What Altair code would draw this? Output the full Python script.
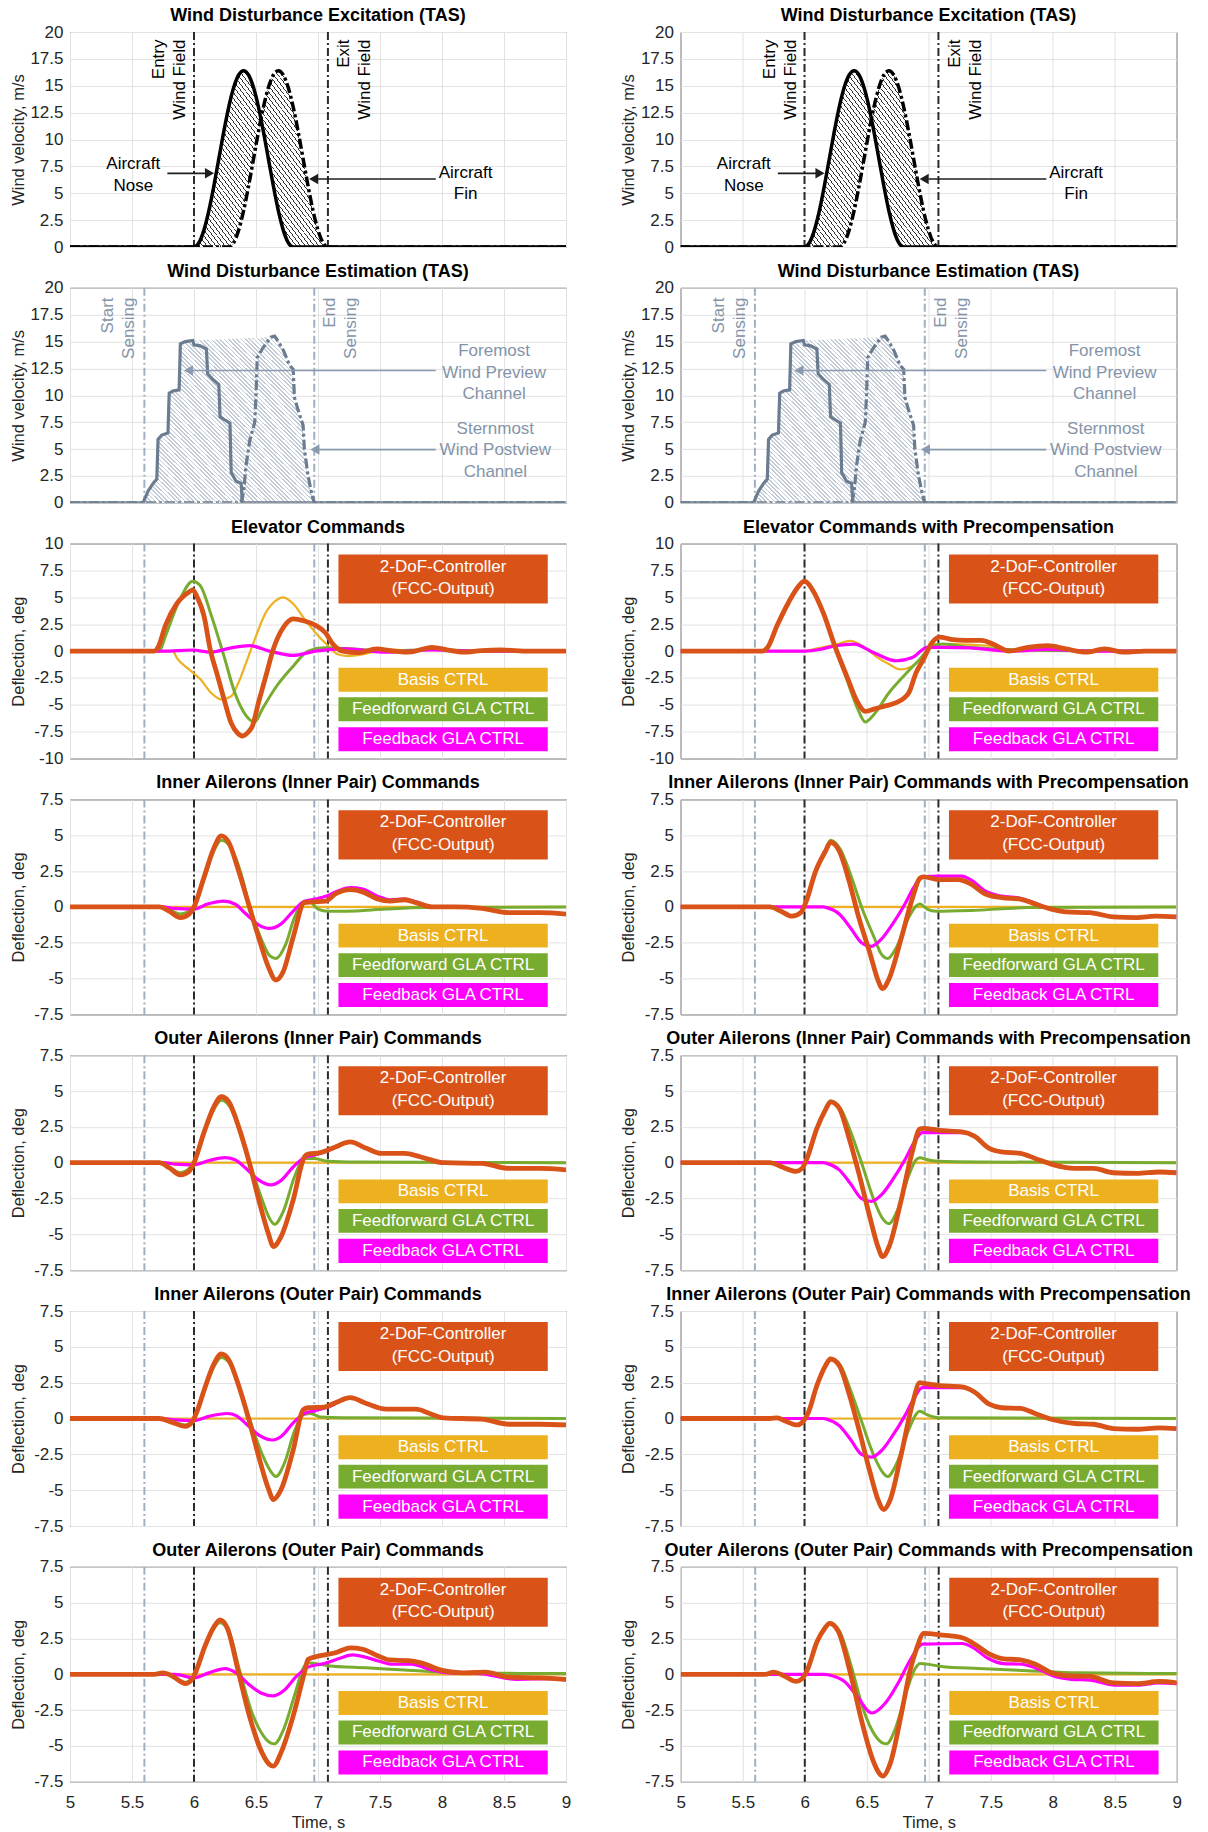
import altair as alt
import pandas as pd

FONT = "Liberation Sans"

# ---------------- colours ----------------
C_FCC = "#D95319"
C_BASIS = "#EDB120"
C_FF = "#77AC30"
C_FB = "#FF00FF"
C_EVT = "#2b2b2b"
C_SENSE = "#9fb0c2"
C_EST = "#6b7c90"
C_EST_TXT = "#8494a8"

# ---------------- axes ----------------
X_TICKS = [5, 5.5, 6, 6.5, 7, 7.5, 8, 8.5, 9]
WIND_TICKS = [0, 2.5, 5, 7.5, 10, 12.5, 15, 17.5, 20]
ELEV_TICKS = [-10, -7.5, -5, -2.5, 0, 2.5, 5, 7.5, 10]
AIL_TICKS = [-7.5, -5, -2.5, 0, 2.5, 5, 7.5]

ENTRY_T, EXIT_T = 6.0, 7.08
START_T, END_T = 5.6, 6.97

TITLES_L = [
    "Wind Disturbance Excitation (TAS)",
    "Wind Disturbance Estimation (TAS)",
    "Elevator Commands",
    "Inner Ailerons (Inner Pair) Commands",
    "Outer Ailerons (Inner Pair) Commands",
    "Inner Ailerons (Outer Pair) Commands",
    "Outer Ailerons (Outer Pair) Commands",
]
TITLES_R = [
    "Wind Disturbance Excitation (TAS)",
    "Wind Disturbance Estimation (TAS)",
    "Elevator Commands with Precompensation",
    "Inner Ailerons (Inner Pair) Commands with Precompensation",
    "Outer Ailerons (Inner Pair) Commands with Precompensation",
    "Inner Ailerons (Outer Pair) Commands with Precompensation",
    "Outer Ailerons (Outer Pair) Commands with Precompensation",
]

BOX_LABELS = {
    "fcc": ["2-DoF-Controller", "(FCC-Output)"],
    "basis": "Basis CTRL",
    "ff": "Feedforward GLA CTRL",
    "fb": "Feedback GLA CTRL",
}

# ---------------- wind excitation ----------------
GUST_T = [6.00, 6.04, 6.08, 6.12, 6.16, 6.20, 6.24, 6.28, 6.32, 6.36, 6.40, 6.44, 6.48, 6.52,
          6.56, 6.60, 6.64, 6.68, 6.72, 6.76, 6.80, 6.84, 6.88, 6.92, 6.96, 7.00, 7.04, 7.08]
NOSE_V = [0, 0.40, 1.57, 3.38, 5.67, 8.20, 10.73, 13.02, 14.83, 16.00, 16.40, 16.00, 14.83, 13.02,
          10.73, 8.20, 5.67, 3.38, 1.57, 0.40, 0, 0, 0, 0, 0, 0, 0, 0]
FIN_V = [0, 0, 0, 0, 0, 0, 0, 0, 0.40, 1.57, 3.38, 5.67, 8.20, 10.73,
         13.02, 14.83, 16.00, 16.40, 16.00, 14.83, 13.02, 10.73, 8.20, 5.67, 3.38, 1.57, 0.40, 0]

# ---------------- wind estimation ----------------
FORE = [(5.0, 0), (5.59, 0), (5.60, 0.3), (5.63, 1.1), (5.67, 1.8), (5.70, 2.2), (5.71, 5.9),
        (5.74, 6.3), (5.79, 6.5), (5.80, 10.2), (5.83, 10.4), (5.88, 10.5), (5.89, 14.8),
        (5.93, 15.0), (5.99, 15.1), (6.00, 14.7), (6.05, 14.6), (6.10, 14.3), (6.11, 12.0),
        (6.15, 11.5), (6.20, 11.0), (6.21, 8.0), (6.25, 7.7), (6.29, 7.4), (6.30, 2.8),
        (6.34, 2.0), (6.38, 1.8), (6.39, 0), (9.0, 0)]
STERN = [(5.0, 0), (6.38, 0), (6.40, 1.0), (6.42, 3.5), (6.45, 5.8), (6.49, 7.5), (6.50, 10.0),
         (6.51, 13.5), (6.55, 14.3), (6.58, 14.8), (6.62, 15.4), (6.65, 15.5), (6.68, 15.0),
         (6.72, 14.2), (6.77, 12.8), (6.80, 12.4), (6.81, 9.8), (6.84, 8.6), (6.88, 7.2),
         (6.89, 5.0), (6.92, 2.5), (6.95, 0.8), (6.97, 0), (9.0, 0)]

# ---------------- elevator ----------------
EL_L_FCC = [(5.0, 0), (5.68, 0), (5.71, 0.35), (5.77, 2.4), (5.86, 4.4), (5.96, 5.5), (5.99, 5.7),
            (6.03, 4.9), (6.08, 3.3), (6.13, 0.2), (6.19, -2.3), (6.25, -4.8), (6.30, -6.7),
            (6.35, -7.6), (6.39, -7.9), (6.44, -7.5), (6.47, -7.0), (6.52, -4.8), (6.58, -2.3),
            (6.64, 0.2), (6.72, 2.2), (6.80, 3.0), (6.89, 2.8), (6.98, 2.4), (7.06, 1.7),
            (7.12, 0.65), (7.20, 0.0), (7.33, -0.15), (7.47, 0.2), (7.61, 0.0), (7.73, -0.1),
            (7.92, 0.35), (8.05, 0.1), (8.17, -0.1), (8.32, 0.05), (8.48, 0.1), (8.70, 0.0), (9.0, 0.0)]
EL_L_BAS = [(5.0, 0), (5.83, 0), (5.86, -0.6), (5.96, -1.7), (6.05, -2.6), (6.14, -3.9), (6.22, -4.5),
            (6.30, -4.2), (6.36, -2.9), (6.42, -1.1), (6.49, 1.1), (6.58, 3.6), (6.66, 4.7),
            (6.72, 5.0), (6.80, 4.4), (6.89, 3.0), (6.98, 1.7), (7.08, 0.5), (7.16, -0.3),
            (7.23, -0.45), (7.36, -0.3), (7.48, 0.0), (7.61, 0.15), (7.75, 0.0), (7.92, 0.2),
            (8.10, 0.0), (9.0, 0)]
EL_L_FF = [(5.0, 0), (5.72, 0), (5.77, 1.4), (5.89, 4.9), (5.99, 6.5), (6.05, 6.1), (6.14, 3.3),
           (6.24, -0.4), (6.33, -3.9), (6.42, -6.0), (6.49, -6.6), (6.55, -5.4), (6.67, -3.2),
           (6.80, -1.4), (6.92, 0.0), (7.05, 0.3), (7.23, 0.25), (7.55, 0.0), (7.92, 0.15),
           (8.3, 0.0), (9.0, 0.0)]
EL_L_FB = [(5.0, 0), (5.75, 0), (5.99, 0.1), (6.13, -0.1), (6.30, 0.3), (6.45, 0.5), (6.61, 0.0),
           (6.80, -0.4), (6.98, 0.0), (7.23, 0.2), (7.55, -0.1), (7.92, 0.1), (8.3, 0.0), (9.0, 0.0)]

EL_R_FCC = [(5.0, 0), (5.66, 0), (5.70, 0.3), (5.78, 2.4), (5.87, 4.5), (5.95, 6.0), (6.00, 6.5),
            (6.07, 5.6), (6.15, 3.6), (6.25, 0.3), (6.34, -2.3), (6.43, -4.8), (6.49, -5.6),
            (6.56, -5.4), (6.65, -5.1), (6.74, -4.8), (6.84, -3.9), (6.90, -2.0), (6.96, -0.75),
            (7.02, 0.65), (7.09, 1.3), (7.18, 1.1), (7.30, 1.0), (7.43, 1.0), (7.52, 0.65),
            (7.65, 0.0), (7.80, 0.35), (7.96, 0.5), (8.11, 0.2), (8.27, -0.1), (8.42, 0.2),
            (8.58, -0.1), (8.74, 0.0), (9.0, 0.0)]
EL_R_BAS = [(5.0, 0), (6.0, 0), (6.06, 0.15), (6.25, 0.6), (6.37, 0.95), (6.49, 0.3), (6.59, -0.6),
            (6.68, -1.2), (6.77, -1.7), (6.87, -1.4), (6.96, -0.4), (7.05, 0.65), (7.18, 0.65),
            (7.49, 0.5), (7.65, 0.0), (7.96, 0.2), (8.3, 0.0), (9.0, 0.0)]
EL_R_FF = [(5.0, 0), (5.66, 0), (5.70, 0.3), (5.78, 2.4), (5.87, 4.5), (5.95, 6.0), (6.00, 6.5),
           (6.07, 5.6), (6.15, 3.6), (6.25, 0.2), (6.34, -2.6), (6.43, -5.4), (6.49, -6.6),
           (6.56, -5.9), (6.68, -3.9), (6.81, -2.2), (6.93, -0.75), (7.02, 0.35), (7.12, 0.65),
           (7.33, 0.35), (7.65, 0.15), (8.0, 0.05), (9.0, 0.0)]
EL_R_FB = [(5.0, 0), (6.0, 0), (6.12, 0.15), (6.25, 0.5), (6.40, 0.65), (6.56, -0.15), (6.74, -0.9),
           (6.87, -0.6), (6.99, 0.35), (7.12, 0.35), (7.33, 0.3), (7.65, 0.0), (7.96, 0.15),
           (8.3, 0.0), (9.0, 0.0)]

ZERO_LINE = [(5.0, 0.0), (9.0, 0.0)]

# ---------------- inner ailerons (inner pair) ----------------
IAIP_L_FCC = [(5.0, 0), (5.72, 0), (5.80, -0.3), (5.89, -0.75), (5.96, -0.5), (6.00, 0.0), (6.08, 2.05),
              (6.16, 4.1), (6.22, 4.95), (6.28, 4.5), (6.36, 2.5), (6.44, 0.2), (6.52, -2.1),
              (6.60, -4.2), (6.66, -5.1), (6.72, -4.5), (6.80, -2.1), (6.89, 0.3), (6.95, 0.35),
              (7.06, 0.4), (7.14, 0.9), (7.26, 1.2), (7.36, 1.05), (7.48, 0.55), (7.58, 0.4),
              (7.70, 0.5), (7.79, 0.3), (7.92, 0.0), (8.10, 0.0), (8.32, -0.1), (8.54, -0.4),
              (8.79, -0.4), (9.0, -0.5)]
IAIP_L_FF = [(5.0, 0), (5.72, 0), (5.80, -0.2), (5.89, -0.5), (6.00, 0.0), (6.08, 1.9), (6.16, 3.9),
             (6.22, 4.65), (6.30, 4.1), (6.38, 2.3), (6.45, 0.0), (6.55, -2.4), (6.61, -3.4),
             (6.66, -3.6), (6.74, -2.6), (6.81, -0.75), (6.89, 0.3), (6.94, 0.3), (7.00, -0.15),
             (7.08, -0.3), (7.23, -0.3), (7.55, -0.15), (7.86, -0.05), (9.0, 0.0)]
IAIP_L_FB = [(5.0, 0), (5.75, 0), (5.83, -0.1), (6.00, -0.15), (6.11, 0.2), (6.24, 0.4), (6.33, 0.2),
             (6.42, -0.5), (6.52, -1.25), (6.61, -1.5), (6.70, -1.2), (6.80, -0.3), (6.89, 0.4),
             (6.98, 0.55), (7.08, 0.8), (7.17, 1.15), (7.26, 1.35), (7.36, 1.25), (7.48, 0.75),
             (7.58, 0.5), (7.70, 0.55), (7.79, 0.35), (7.92, 0.0), (8.10, 0.0), (8.32, -0.1),
             (8.54, -0.4), (8.79, -0.4), (9.0, -0.5)]

IAIP_R_FCC = [(5.0, 0), (5.72, 0), (5.81, -0.3), (5.90, -0.65), (5.97, -0.4), (6.01, 0.3), (6.09, 2.5),
              (6.17, 3.9), (6.21, 4.5), (6.28, 3.9), (6.36, 1.8), (6.43, -0.5), (6.53, -3.3),
              (6.59, -5.05), (6.63, -5.7), (6.68, -5.05), (6.78, -2.2), (6.87, 0.6), (6.93, 2.0),
              (6.96, 2.1), (7.09, 1.9), (7.24, 1.9), (7.34, 1.6), (7.46, 0.9), (7.59, 0.65),
              (7.74, 0.55), (7.83, 0.3), (7.99, -0.15), (8.11, -0.35), (8.30, -0.4), (8.49, -0.7),
              (8.68, -0.75), (8.83, -0.65), (9.0, -0.7)]
IAIP_R_FF = [(5.0, 0), (5.72, 0), (5.81, -0.3), (5.90, -0.65), (5.97, -0.4), (6.01, 0.3), (6.09, 2.5),
             (6.17, 4.0), (6.21, 4.65), (6.29, 4.0), (6.37, 2.3), (6.46, 0.0), (6.56, -2.1),
             (6.62, -3.3), (6.67, -3.6), (6.74, -2.85), (6.84, -0.75), (6.90, 0.05), (6.93, 0.2),
             (6.99, -0.15), (7.06, -0.3), (7.34, -0.25), (7.80, -0.05), (9.0, 0.0)]
IAIP_R_FB = [(5.0, 0), (6.15, 0), (6.18, -0.05), (6.28, -0.5), (6.37, -1.45), (6.46, -2.5),
             (6.54, -2.75), (6.62, -2.25), (6.71, -1.2), (6.81, 0.2), (6.88, 1.35), (6.95, 2.1),
             (7.09, 2.15), (7.27, 2.15), (7.34, 1.9), (7.46, 1.1), (7.59, 0.75), (7.74, 0.6),
             (7.83, 0.35), (7.99, -0.15), (8.11, -0.35), (8.30, -0.4), (8.49, -0.7), (8.68, -0.75),
             (8.83, -0.65), (9.0, -0.7)]

# ---------------- outer ailerons (inner pair) ----------------
OAIP_L_FCC = [(5.0, 0), (5.72, 0), (5.80, -0.35), (5.89, -0.85), (5.96, -0.6), (6.00, 0.0), (6.08, 2.1),
              (6.16, 3.9), (6.22, 4.6), (6.28, 4.25), (6.36, 2.5), (6.44, 0.2), (6.53, -2.85),
              (6.60, -4.95), (6.64, -5.85), (6.70, -5.2), (6.80, -2.6), (6.89, 0.4), (6.92, 0.6),
              (7.02, 0.7), (7.14, 1.1), (7.26, 1.45), (7.39, 1.0), (7.51, 0.65), (7.70, 0.65),
              (7.83, 0.4), (8.01, 0.0), (8.32, -0.05), (8.54, -0.4), (8.79, -0.4), (9.0, -0.5)]
OAIP_L_FF = [(5.0, 0), (5.72, 0), (5.80, -0.3), (5.89, -0.7), (6.00, 0.0), (6.08, 2.0), (6.16, 3.7),
             (6.22, 4.35), (6.29, 3.9), (6.37, 2.2), (6.45, 0.0), (6.55, -2.6), (6.61, -3.9),
             (6.65, -4.3), (6.72, -3.4), (6.81, -1.0), (6.89, 0.3), (6.97, 0.3), (7.08, 0.1),
             (7.30, 0.05), (9.0, 0.0)]
OAIP_L_FB = [(5.0, 0), (5.75, 0), (5.85, -0.1), (6.00, -0.15), (6.12, 0.15), (6.25, 0.35), (6.33, 0.2),
             (6.42, -0.4), (6.52, -1.2), (6.62, -1.55), (6.70, -1.25), (6.80, -0.3), (6.89, 0.35),
             (6.98, 0.55), (7.08, 0.85), (7.17, 1.2), (7.26, 1.45), (7.39, 1.0), (7.51, 0.65),
             (7.70, 0.65), (7.83, 0.4), (8.01, 0.0), (8.32, -0.05), (8.54, -0.4), (8.79, -0.4),
             (9.0, -0.5)]

OAIP_R_FCC = [(5.0, 0), (5.72, 0), (5.82, -0.3), (5.93, -0.6), (5.98, -0.4), (6.02, 0.3), (6.10, 2.4),
              (6.17, 3.7), (6.21, 4.25), (6.28, 3.8), (6.36, 1.7), (6.44, -0.8), (6.53, -3.9),
              (6.59, -5.8), (6.63, -6.55), (6.68, -5.9), (6.78, -2.6), (6.87, 0.8), (6.93, 2.35),
              (6.96, 2.4), (7.09, 2.25), (7.27, 2.15), (7.37, 1.85), (7.49, 1.0), (7.59, 0.75),
              (7.74, 0.65), (7.86, 0.3), (7.99, -0.1), (8.18, -0.4), (8.33, -0.4), (8.49, -0.7),
              (8.68, -0.75), (8.86, -0.65), (9.0, -0.7)]
OAIP_R_FF = [(5.0, 0), (5.72, 0), (5.82, -0.3), (5.93, -0.6), (5.98, -0.4), (6.02, 0.3), (6.10, 2.4),
             (6.17, 3.8), (6.21, 4.3), (6.29, 3.8), (6.37, 2.2), (6.46, 0.0), (6.56, -2.6),
             (6.63, -3.9), (6.68, -4.25), (6.75, -3.3), (6.84, -0.9), (6.90, 0.2), (6.93, 0.35),
             (6.99, 0.2), (7.08, 0.1), (7.40, 0.05), (9.0, 0.0)]
OAIP_R_FB = [(5.0, 0), (6.15, 0), (6.18, -0.05), (6.28, -0.5), (6.37, -1.45), (6.46, -2.5),
             (6.54, -2.7), (6.62, -2.25), (6.71, -1.2), (6.81, 0.2), (6.88, 1.35), (6.95, 2.1),
             (7.09, 2.1), (7.27, 2.1), (7.37, 1.85), (7.49, 1.0), (7.59, 0.75), (7.74, 0.65),
             (7.86, 0.3), (7.99, -0.1), (8.18, -0.4), (8.33, -0.4), (8.49, -0.7), (8.68, -0.75),
             (8.86, -0.65), (9.0, -0.7)]

# ---------------- inner ailerons (outer pair) ----------------
IAOP_L_FCC = [(5.0, 0), (5.72, 0), (5.82, -0.25), (5.93, -0.55), (5.98, -0.3), (6.02, 0.4), (6.09, 2.2),
              (6.16, 3.8), (6.22, 4.5), (6.28, 4.1), (6.36, 2.3), (6.44, 0.0), (6.53, -2.9),
              (6.60, -4.9), (6.64, -5.65), (6.70, -5.0), (6.80, -2.2), (6.88, 0.6), (6.92, 0.75),
              (7.05, 0.8), (7.14, 1.1), (7.26, 1.45), (7.39, 1.05), (7.55, 0.65), (7.79, 0.65),
              (7.90, 0.35), (8.01, 0.05), (8.32, -0.05), (8.54, -0.4), (8.79, -0.4), (9.0, -0.45)]
IAOP_L_FF = [(5.0, 0), (5.72, 0), (5.82, -0.2), (5.93, -0.45), (6.00, 0.0), (6.09, 2.1), (6.16, 3.6),
             (6.22, 4.25), (6.29, 3.8), (6.37, 2.1), (6.45, -0.1), (6.55, -2.5), (6.62, -3.7),
             (6.66, -4.05), (6.73, -3.1), (6.81, -0.9), (6.89, 0.3), (6.94, 0.35), (7.02, 0.1),
             (7.20, 0.05), (9.0, 0.0)]
IAOP_L_FB = [(5.0, 0), (5.75, 0), (5.85, -0.1), (6.00, -0.15), (6.12, 0.15), (6.27, 0.35), (6.34, 0.2),
             (6.43, -0.45), (6.53, -1.2), (6.63, -1.5), (6.71, -1.2), (6.80, -0.3), (6.89, 0.35),
             (6.98, 0.55), (7.08, 0.8), (7.17, 1.15), (7.26, 1.45), (7.39, 1.05), (7.55, 0.65),
             (7.79, 0.65), (7.90, 0.35), (8.01, 0.05), (8.32, -0.05), (8.54, -0.4), (8.79, -0.4),
             (9.0, -0.45)]

IAOP_R_FCC = [(5.0, 0), (5.72, 0), (5.78, 0.05), (5.85, -0.2), (5.94, -0.45), (5.99, -0.2), (6.03, 0.4),
              (6.10, 2.3), (6.17, 3.7), (6.21, 4.15), (6.28, 3.7), (6.36, 1.7), (6.44, -0.8),
              (6.53, -3.8), (6.59, -5.6), (6.64, -6.35), (6.69, -5.7), (6.78, -2.5), (6.87, 1.0),
              (6.93, 2.5), (6.96, 2.45), (7.09, 2.3), (7.27, 2.2), (7.37, 1.85), (7.49, 1.0),
              (7.59, 0.75), (7.74, 0.7), (7.86, 0.35), (7.99, -0.05), (8.18, -0.35), (8.33, -0.4),
              (8.49, -0.7), (8.68, -0.75), (8.86, -0.65), (9.0, -0.7)]
IAOP_R_FF = [(5.0, 0), (5.72, 0), (5.78, 0.05), (5.85, -0.2), (5.94, -0.45), (5.99, -0.2), (6.03, 0.4),
             (6.10, 2.3), (6.17, 3.75), (6.21, 4.2), (6.29, 3.7), (6.37, 2.0), (6.46, -0.2),
             (6.56, -2.6), (6.63, -3.75), (6.67, -4.05), (6.74, -3.2), (6.84, -0.8), (6.90, 0.3),
             (6.93, 0.5), (6.99, 0.25), (7.08, 0.05), (9.0, 0.0)]
IAOP_R_FB = [(5.0, 0), (6.15, 0), (6.18, -0.05), (6.28, -0.5), (6.37, -1.45), (6.46, -2.5),
             (6.54, -2.7), (6.62, -2.25), (6.71, -1.2), (6.81, 0.2), (6.88, 1.35), (6.95, 2.15),
             (7.09, 2.15), (7.27, 2.15), (7.37, 1.85), (7.49, 1.0), (7.59, 0.75), (7.74, 0.7),
             (7.86, 0.35), (7.99, -0.05), (8.18, -0.35), (8.33, -0.4), (8.49, -0.7), (8.68, -0.75),
             (8.86, -0.65), (9.0, -0.7)]

# ---------------- outer ailerons (outer pair) ----------------
OAOP_L_FCC = [(5.0, 0), (5.68, 0), (5.75, 0.1), (5.83, -0.15), (5.93, -0.65), (5.98, -0.4), (6.02, 0.3),
              (6.09, 2.0), (6.16, 3.3), (6.21, 3.8), (6.27, 3.2), (6.36, 0.1), (6.45, -3.0),
              (6.55, -5.5), (6.61, -6.3), (6.64, -6.4), (6.70, -5.5), (6.80, -2.9), (6.89, 0.1),
              (6.92, 1.05), (7.02, 1.3), (7.14, 1.5), (7.26, 1.85), (7.36, 1.75), (7.48, 1.3),
              (7.58, 1.0), (7.73, 0.95), (7.83, 0.8), (8.01, 0.25), (8.17, 0.1), (8.35, 0.15),
              (8.54, -0.2), (8.79, -0.25), (9.0, -0.35)]
OAOP_L_FF = [(5.0, 0), (5.68, 0), (5.75, 0.1), (5.83, -0.15), (5.93, -0.55), (6.00, -0.1), (6.09, 1.9),
             (6.16, 3.2), (6.21, 3.6), (6.28, 3.0), (6.37, 0.2), (6.46, -2.5), (6.56, -4.3),
             (6.62, -4.8), (6.65, -4.85), (6.72, -3.9), (6.81, -1.5), (6.88, 0.4), (6.92, 0.8),
             (7.08, 0.6), (7.39, 0.45), (7.70, 0.3), (8.01, 0.15), (9.0, 0.05)]
OAOP_L_FB = [(5.0, 0), (5.85, 0), (6.00, -0.25), (6.12, 0.1), (6.25, 0.4), (6.34, 0.1), (6.44, -0.7),
             (6.54, -1.3), (6.64, -1.5), (6.73, -1.1), (6.82, -0.2), (6.92, 0.5), (7.05, 0.75),
             (7.17, 1.1), (7.28, 1.35), (7.38, 1.2), (7.48, 0.95), (7.60, 0.7), (7.75, 0.7),
             (7.90, 0.35), (8.05, 0.1), (8.30, 0.05), (8.60, -0.35), (8.85, -0.3), (9.0, -0.4)]

OAOP_R_FCC = [(5.0, 0), (5.68, 0), (5.75, 0.15), (5.83, -0.1), (5.93, -0.5), (5.98, -0.3), (6.02, 0.3),
              (6.10, 2.3), (6.16, 3.2), (6.20, 3.55), (6.27, 3.0), (6.37, 0.0), (6.46, -3.3),
              (6.55, -6.0), (6.60, -6.9), (6.63, -7.1), (6.69, -6.2), (6.78, -2.7), (6.85, 0.3),
              (6.90, 1.75), (6.96, 2.85), (7.09, 2.75), (7.27, 2.55), (7.37, 2.1), (7.49, 1.4),
              (7.59, 1.1), (7.74, 1.0), (7.86, 0.7), (7.99, 0.1), (8.11, -0.1), (8.30, -0.15),
              (8.49, -0.6), (8.68, -0.65), (8.86, -0.5), (9.0, -0.6)]
OAOP_R_FF = [(5.0, 0), (5.68, 0), (5.75, 0.15), (5.83, -0.1), (5.93, -0.5), (5.98, -0.3), (6.02, 0.3),
             (6.10, 2.3), (6.16, 3.25), (6.20, 3.6), (6.28, 3.0), (6.38, 0.4), (6.47, -2.4),
             (6.57, -4.3), (6.63, -4.8), (6.66, -4.85), (6.73, -3.8), (6.82, -1.2), (6.89, 0.4),
             (6.93, 0.75), (7.10, 0.55), (7.40, 0.4), (7.80, 0.25), (8.20, 0.1), (9.0, 0.05)]
OAOP_R_FB = [(5.0, 0), (6.15, 0), (6.22, -0.1), (6.32, -0.5), (6.42, -1.5), (6.54, -2.7), (6.65, -2.0),
             (6.76, -0.5), (6.85, 1.0), (6.95, 2.1), (7.27, 2.15), (7.35, 1.9), (7.48, 1.1),
             (7.60, 0.75), (7.75, 0.7), (7.90, 0.3), (8.00, -0.1), (8.15, -0.35), (8.30, -0.4),
             (8.50, -0.75), (8.70, -0.75), (8.85, -0.6), (9.0, -0.65)]

COMMAND_ROWS = [
    ([-10, 10], ELEV_TICKS,
     dict(fcc=EL_L_FCC, basis=EL_L_BAS, ff=EL_L_FF, fb=EL_L_FB),
     dict(fcc=EL_R_FCC, basis=EL_R_BAS, ff=EL_R_FF, fb=EL_R_FB)),
    ([-7.5, 7.5], AIL_TICKS,
     dict(fcc=IAIP_L_FCC, basis=ZERO_LINE, ff=IAIP_L_FF, fb=IAIP_L_FB),
     dict(fcc=IAIP_R_FCC, basis=ZERO_LINE, ff=IAIP_R_FF, fb=IAIP_R_FB)),
    ([-7.5, 7.5], AIL_TICKS,
     dict(fcc=OAIP_L_FCC, basis=ZERO_LINE, ff=OAIP_L_FF, fb=OAIP_L_FB),
     dict(fcc=OAIP_R_FCC, basis=ZERO_LINE, ff=OAIP_R_FF, fb=OAIP_R_FB)),
    ([-7.5, 7.5], AIL_TICKS,
     dict(fcc=IAOP_L_FCC, basis=ZERO_LINE, ff=IAOP_L_FF, fb=IAOP_L_FB),
     dict(fcc=IAOP_R_FCC, basis=ZERO_LINE, ff=IAOP_R_FF, fb=IAOP_R_FB)),
    ([-7.5, 7.5], AIL_TICKS,
     dict(fcc=OAOP_L_FCC, basis=ZERO_LINE, ff=OAOP_L_FF, fb=OAOP_L_FB),
     dict(fcc=OAOP_R_FCC, basis=ZERO_LINE, ff=OAOP_R_FF, fb=OAOP_R_FB)),
]

# ---------------- layout / style ----------------
W, H = 496, 215
DASHDOT = [8, 3, 2, 3]
TICK_FS = 17
AXT_FS = 16.5
BOX_FS = 17
BOX_T = (7.165, 8.853)
BOX_FRAC = {"fcc": (0.051, 0.279), "basis": (0.578, 0.689), "ff": (0.715, 0.826), "fb": (0.854, 0.966)}
FCC_LINE_FRAC = [0.107, 0.212]
BOX_COL = {"fcc": C_FCC, "basis": C_BASIS, "ff": C_FF, "fb": C_FB}


def mk_df(pts):
    return pd.DataFrame(pts, columns=["t", "v"])


def hatch(n, frac, color):
    stops = []
    for i in range(n):
        a, b, c = i / n, (i + frac) / n, (i + 1) / n
        stops += [alt.GradientStop(color=color, offset=a), alt.GradientStop(color=color, offset=b),
                  alt.GradientStop(color="#ffffff", offset=b), alt.GradientStop(color="#ffffff", offset=c)]
    return alt.LinearGradient(gradient="linear", stops=stops, x1=0, y1=1, x2=1, y2=0)


class Panel:
    def __init__(self, ydom, yticks, ytitle, bottom):
        self.ydom = ydom
        self.xs = alt.Scale(domain=[5, 9], nice=False, zero=False)
        self.ys = alt.Scale(domain=ydom, nice=False, zero=False)
        if bottom:
            self.xa = alt.Axis(values=X_TICKS, labelExpr="toString(datum.value)", title="Time, s",
                               grid=True, ticks=False, domain=False, labelPadding=12.5, titlePadding=4,
                               labelFlush=False)
        else:
            self.xa = alt.Axis(values=X_TICKS, labels=False, title=None, grid=True, ticks=False,
                               domain=False)
        self.ya = alt.Axis(values=yticks, labelExpr="toString(datum.value)", title=ytitle, grid=True,
                           ticks=False, domain=False, labelPadding=7, titlePadding=4,
                           minExtent=40, maxExtent=40, labelFlush=False)
        self.layers = []

    def x(self, f):
        return alt.X(f"{f}:Q", scale=self.xs, axis=self.xa)

    def y(self, f):
        return alt.Y(f"{f}:Q", scale=self.ys, axis=self.ya)

    def line(self, pts, color, width, dash=None, interp="monotone"):
        kw = dict(color=color, strokeWidth=width, interpolate=interp, clip=True)
        if dash:
            kw["strokeDash"] = dash
        self.layers.append(alt.Chart(mk_df(pts)).mark_line(**kw).encode(x=self.x("t"), y=self.y("v")))

    def vline(self, t, color, width=2):
        self.layers.append(alt.Chart(pd.DataFrame({"t": [t]})).mark_rule(
            color=color, strokeWidth=width, strokeDash=DASHDOT).encode(x=self.x("t")))

    def text(self, t, v, txt, color, size=17, angle=0, align="center", lh=21.5):
        # multi-line texts: first line is placed at (t, v), later lines follow below / to the right
        kw = dict(text=txt, color=color, fontSize=size, font=FONT, align=align, baseline="middle",
                  lineHeight=lh)
        if angle:
            kw["angle"] = angle
        self.layers.append(alt.Chart(pd.DataFrame({"t": [t], "v": [v]})).mark_text(**kw).encode(
            x=self.x("t"), y=self.y("v")))

    def arrow(self, t_from, t_tip, v, color, shape, head_t):
        self.layers.append(alt.Chart(pd.DataFrame({"t": [t_from], "t2": [t_tip], "v": [v]})).mark_rule(
            color=color, strokeWidth=1.6).encode(x=self.x("t"), x2="t2", y=self.y("v")))
        self.layers.append(alt.Chart(pd.DataFrame({"t": [head_t], "v": [v]})).mark_point(
            shape=shape, filled=True, size=110, color=color, opacity=1).encode(x=self.x("t"), y=self.y("v")))

    def frac_v(self, f):
        lo, hi = self.ydom
        return hi - f * (hi - lo)

    def box(self, key):
        f1, f2 = BOX_FRAC[key]
        v1, v2 = self.frac_v(f1), self.frac_v(f2)
        df = pd.DataFrame({"t": [BOX_T[0]], "t2": [BOX_T[1]], "v": [v1], "v2": [v2]})
        self.layers.append(alt.Chart(df).mark_rect(color=BOX_COL[key]).encode(
            x=self.x("t"), x2="t2", y=self.y("v"), y2="v2"))
        tc = (BOX_T[0] + BOX_T[1]) / 2
        label = BOX_LABELS[key]
        if isinstance(label, list):
            spots = [(line, self.frac_v(f)) for line, f in zip(label, FCC_LINE_FRAC)]
        else:
            spots = [(label, (v1 + v2) / 2)]
        for line, vc in spots:
            self.layers.append(alt.Chart(pd.DataFrame({"t": [tc], "v": [vc]})).mark_text(
                text=line, color="white", fontSize=BOX_FS, font=FONT, align="center",
                baseline="middle").encode(x=self.x("t"), y=self.y("v")))

    def build(self, title):
        return alt.layer(*self.layers).properties(
            width=W, height=H,
            title=alt.TitleParams(title, frame="group", anchor="middle"))


def excitation_panel(title):
    p = Panel([0, 20], WIND_TICKS, "Wind velocity, m/s", False)
    gust = pd.DataFrame({"t": GUST_T, "nose": NOSE_V, "fin": FIN_V})
    p.layers.append(alt.Chart(gust).mark_area(color=hatch(60, 0.22, "#333333"), interpolate="monotone").encode(
        x=p.x("t"), y=p.y("nose"), y2="fin"))
    p.vline(ENTRY_T, C_EVT)
    p.vline(EXIT_T, C_EVT)
    p.line([(5.0, 0)] + list(zip(GUST_T, FIN_V)) + [(9.0, 0)], "#000000", 3.5, dash=[10, 3, 3, 3])
    p.line([(5.0, 0)] + list(zip(GUST_T, NOSE_V)) + [(9.0, 0)], "#000000", 3.5)
    p.text(5.72, 19.3, ["Entry", "Wind Field"], "#000000", angle=270, align="right", lh=21)
    p.text(7.21, 19.3, ["Exit", "Wind Field"], "#000000", angle=270, align="right", lh=21)
    p.text(5.51, 7.72, ["Aircraft", "Nose"], "#000000")
    p.text(8.19, 6.9, ["Aircraft", "Fin"], "#000000")
    p.arrow(5.785, 6.10, 6.85, "#1e1e1e", "triangle-right", 6.125)
    p.arrow(7.95, 7.0, 6.33, "#1e1e1e", "triangle-left", 6.965)
    return p.build(title)


def estimation_panel(title):
    p = Panel([0, 20], WIND_TICKS, "Wind velocity, m/s", False)
    env = [pt for pt in FORE if 5.59 <= pt[0] <= 5.99] + [pt for pt in STERN if 6.62 <= pt[0] <= 6.97]
    p.layers.append(alt.Chart(mk_df(env)).mark_area(color=hatch(80, 0.4, "#c3ccd6"), interpolate="linear").encode(
        x=p.x("t"), y=p.y("v")))
    p.vline(START_T, C_SENSE)
    p.vline(END_T, C_SENSE)
    p.line(STERN, C_EST, 3.2, dash=[10, 3, 3, 3], interp="linear")
    p.line(FORE, C_EST, 3.2, interp="linear")
    p.text(5.31, 19.1, ["Start", "Sensing"], C_EST_TXT, angle=270, align="right", lh=21)
    p.text(7.10, 19.1, ["End", "Sensing"], C_EST_TXT, angle=270, align="right", lh=21)
    p.text(8.42, 14.1, ["Foremost", "Wind Preview", "Channel"], C_EST_TXT)
    p.text(8.43, 6.9, ["Sternmost", "Wind Postview", "Channel"], C_EST_TXT)
    p.arrow(7.95, 5.95, 12.3, "#8a9aae", "triangle-left", 5.955)
    p.arrow(7.95, 6.97, 4.95, "#8a9aae", "triangle-left", 6.975)
    return p.build(title)


def command_panel(title, ydom, ticks, ser, bottom):
    p = Panel(ydom, ticks, "Deflection, deg", bottom)
    p.vline(START_T, C_SENSE)
    p.vline(END_T, C_SENSE)
    p.vline(ENTRY_T, C_EVT)
    p.vline(EXIT_T, C_EVT)
    p.line(ser["basis"], C_BASIS, 2.2)
    p.line(ser["ff"], C_FF, 3.0)
    p.line(ser["fb"], C_FB, 3.2)
    p.line(ser["fcc"], C_FCC, 4.8)
    for k in ["fcc", "basis", "ff", "fb"]:
        p.box(k)
    return p.build(title)


SP_H = 52.5
SP_H_BOTTOM = 47.8   # last "9" tick label sticks out past the left panel's plot edge
rows = [
    alt.hconcat(excitation_panel(TITLES_L[0]), excitation_panel(TITLES_R[0]), spacing=SP_H),
    alt.hconcat(estimation_panel(TITLES_L[1]), estimation_panel(TITLES_R[1]), spacing=SP_H),
]
for i, (ydom, ticks, left, right) in enumerate(COMMAND_ROWS):
    bottom = i == len(COMMAND_ROWS) - 1
    rows.append(alt.hconcat(
        command_panel(TITLES_L[i + 2], ydom, ticks, left, bottom),
        command_panel(TITLES_R[i + 2], ydom, ticks, right, bottom),
        spacing=SP_H_BOTTOM if bottom else SP_H))

chart = alt.vconcat(*rows, spacing=5.8).properties(
    padding={"left": 9, "top": 6, "right": 2, "bottom": 1}
).configure(font=FONT).configure_view(
    stroke="#262626", strokeWidth=1
).configure_axis(
    labelFontSize=TICK_FS, titleFontSize=AXT_FS, labelColor="#262626", titleColor="#262626",
    titleFontWeight="normal", gridColor="#e2e2e2", gridWidth=1, labelFont=FONT, titleFont=FONT
).configure_title(
    fontSize=18, fontWeight="bold", offset=-2, color="#000000", font=FONT
)

chart.save("out.html", embed_options={"renderer": "svg", "actions": False})
